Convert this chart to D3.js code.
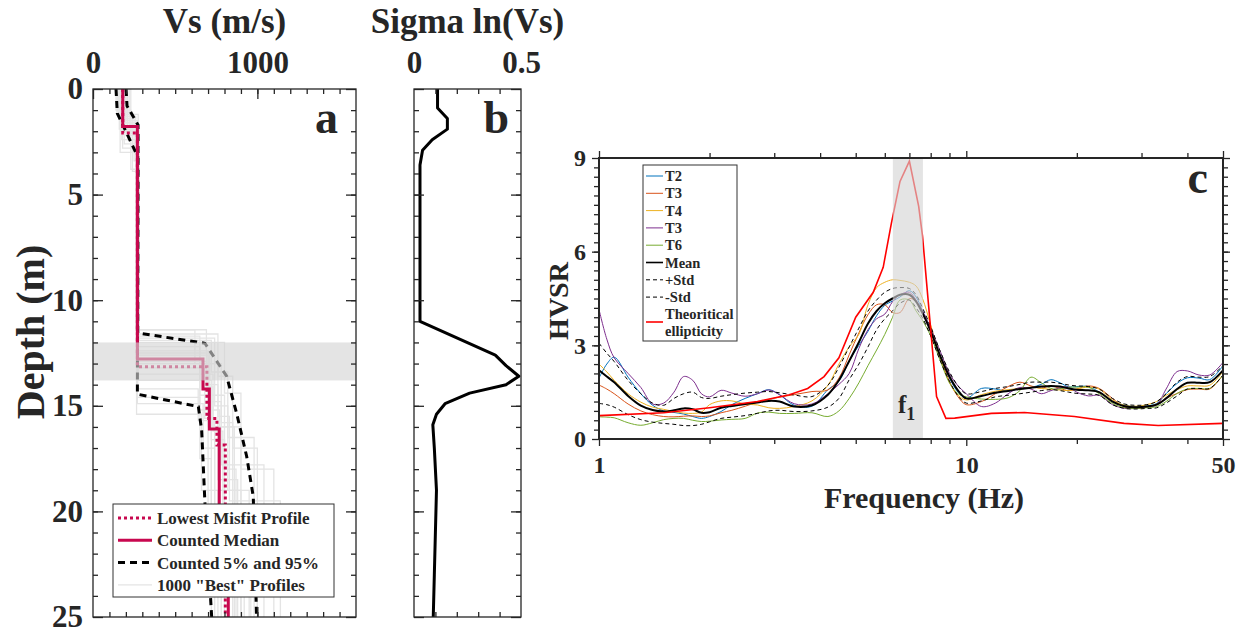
<!DOCTYPE html>
<html>
<head>
<meta charset="utf-8">
<script src="https://cdn.jsdelivr.net/npm/d3@7"></script>
<style>
  body { margin: 0; background: #fff; }
  svg { font-family: "Liberation Serif", "Times New Roman", serif; font-weight: bold; }
  text { fill: #262626; }
</style>
</head>
<body>
<svg id="chart" width="1243" height="632"></svg>
<script>
// ------------------------------------------------------------
// Data
// ------------------------------------------------------------

// Panel a: Vs profiles, each layer is [Vs (m/s), bottom depth (m)]
const medianProfile = [[181, 1.78], [270, 12.78], [669, 14.2], [708, 16.1], [768, 21], [823, 25]];
const lowestMisfit = [[181, 2.08], [270, 13.15], [693, 15.6], [754, 16.86], [805, 25]];
// 5% and 95% curves, points are [Vs, depth]
const pct05 = [[140, 0], [148, 1.15], [272, 3.2], [270, 14.45], [641, 15.04], [661, 16.15], [681, 19.6], [722, 25]];
const pct95 = [[201, 0], [207, 0.8], [274, 1.7], [272, 11.55], [681, 12.04], [813, 13.6], [874, 15.36], [935, 17.4], [975, 19.3], [995, 25]];
// a handful of the "best" profiles (layers [Vs, bottom depth])
const bestProfiles = [
  [[150, 1.2], [275, 11.4], [690, 14.0], [760, 18.5], [880, 25]],
  [[200, 2.2], [265, 11.8], [740, 15.0], [820, 19.0], [950, 25]],
  [[170, 1.6], [270, 12.2], [650, 15.2], [720, 20.0], [800, 25]],
  [[140, 1.0], [230, 3.8], [270, 12.6], [700, 16.0], [900, 25]],
  [[210, 1.9], [280, 11.6], [760, 13.6], [850, 17.0], [1000, 25]],
  [[190, 2.6], [270, 13.2], [680, 15.6], [740, 21], [860, 25]],
  [[160, 1.4], [250, 3.4], [270, 14.6], [650, 17.5], [720, 25]],
  [[180, 2.0], [265, 15.4], [660, 19], [760, 25]],
  [[220, 1.7], [275, 12.0], [800, 14.4], [900, 18], [1100, 25]],
  [[175, 2.4], [270, 13.8], [720, 16.6], [800, 22], [960, 25]],
  [[155, 1.3], [260, 11.4], [620, 13.0], [780, 15.8], [850, 25]],
  [[200, 1.5], [275, 12.4], [700, 14.8], [780, 17.8], [1040, 25]],
  [[165, 3.0], [272, 14.2], [640, 15.7], [700, 20.5], [780, 25]],
  [[185, 1.8], [268, 12.9], [690, 14.1], [730, 16.2], [790, 21], [920, 25]],
  [[230, 2.1], [280, 11.9], [720, 13.4], [820, 16.5], [980, 25]],
  [[145, 1.1], [240, 3.9], [270, 13.0], [760, 15.5], [830, 19.5], [1140, 25]],
  [[170, 2.0], [270, 14.9], [670, 17.0], [740, 25]],
  [[195, 1.6], [265, 11.7], [650, 14.5], [800, 18.0], [870, 25]],
  [[180, 2.8], [270, 12.5], [710, 15.2], [770, 19.0], [900, 25]],
  [[160, 1.9], [276, 13.5], [730, 16.0], [860, 20], [1000, 25]]
];
const bandDepth = [12.0, 13.8];

// Panel b: sigma ln(Vs) against depth
const sigmaDepth = [0, 0.9, 1.4, 1.9, 2.4, 2.9, 3.6, 11.0, 12.6, 13.1, 13.6, 14.0, 14.4, 14.9, 15.4, 15.9, 17, 19, 21, 23, 25];
const sigmaVal = [0.11, 0.11, 0.156, 0.156, 0.085, 0.04, 0.028, 0.028, 0.38, 0.43, 0.49, 0.43, 0.26, 0.145, 0.105, 0.088, 0.095, 0.105, 0.1, 0.095, 0.09];

// Panel c: HVSR curves on a shared frequency grid (Hz)
const freq = [1, 1.05, 1.1, 1.2, 1.3, 1.4, 1.5, 1.6, 1.7, 1.8,
  1.9, 2.0, 2.15, 2.3, 2.5, 2.7, 2.9, 3.1, 3.4, 3.8,
  4.2, 4.5, 4.8, 5.1, 5.4, 5.7, 6.0, 6.3, 6.6, 7.0,
  7.3, 7.6, 8.0, 8.5, 9.0, 9.5, 10, 11, 12, 13,
  14, 15, 16, 17, 18, 19, 20, 21.5, 23, 25,
  27, 29, 31, 33, 35, 37.5, 40, 43, 46, 50];
const hvT2 = [1.95, 2.4, 2.62, 1.98, 1.45, 1.08, 0.9, 0.85, 0.8, 0.72,
  0.66, 0.72, 0.88, 1.1, 1.3, 1.45, 1.58, 1.42, 1.08, 1.05,
  1.58, 1.85, 2.5, 3.0, 3.45, 3.95, 4.28, 4.42, 4.55, 4.75,
  4.55, 4.1, 3.5, 2.65, 1.95, 1.5, 1.3, 1.62, 1.6, 1.53,
  1.62, 1.65, 1.75, 1.9, 1.8, 1.67, 1.68, 1.68, 1.5, 1.22,
  1.08, 1.04, 1.06, 1.14, 1.45, 1.78, 1.96, 1.95, 1.9, 2.35];
const hvT3 = [1.73, 1.6, 1.45, 1.12, 0.9, 0.78, 0.72, 0.71, 0.73, 0.74,
  0.72, 0.74, 0.84, 0.92, 1.05, 1.18, 1.27, 1.34, 1.42, 1.52,
  1.57, 1.95, 2.7, 3.4, 3.98, 4.3, 4.3, 4.05, 4.05, 4.5,
  4.4, 4.05, 3.45, 2.6, 1.85, 1.35, 1.1, 1.2, 1.45, 1.68,
  1.82, 1.7, 1.63, 1.7, 1.62, 1.55, 1.6, 1.7, 1.62, 1.3,
  1.02, 0.98, 1.02, 1.12, 1.3, 1.46, 1.58, 1.6, 1.6, 2.05];
const hvT4 = [2.4, 2.15, 1.88, 1.45, 1.18, 1.02, 0.95, 0.88, 0.83, 0.82,
  0.86, 1.1, 1.22, 1.22, 1.12, 1.09, 1.0, 0.98, 1.04, 1.22,
  1.72, 2.4, 2.95, 3.35, 4.3, 4.85, 5.02, 5.1, 5.08, 5.02,
  4.9, 4.5, 3.65, 2.6, 1.8, 1.4, 1.25, 1.42, 1.53, 1.58,
  1.62, 1.66, 1.62, 1.59, 1.57, 1.55, 1.6, 1.66, 1.6, 1.25,
  1.08, 1.05, 1.1, 1.2, 1.4, 1.58, 1.7, 1.7, 1.72, 2.16];
const hvT3b = [4.15, 3.2, 2.6, 2.1, 1.65, 1.12, 1.15, 1.5, 2.0, 1.88,
  1.45, 1.35, 1.56, 1.47, 1.37, 1.45, 1.57, 1.42, 1.13, 1.12,
  1.45, 1.75, 2.1, 2.9, 3.5, 3.85, 4.0, 4.4, 4.62, 4.7,
  4.45, 4.1, 3.55, 2.8, 2.1, 1.7, 1.45, 1.04, 1.15, 1.45,
  1.65, 1.6, 1.45, 1.55, 1.64, 1.66, 1.5, 1.38, 1.4, 1.1,
  0.98, 0.98, 1.02, 1.1, 1.6, 2.16, 2.18, 2.05, 2.05, 2.45];
const hvT6 = [0.71, 0.7, 0.68, 0.52, 0.44, 0.52, 0.62, 0.66, 0.66, 0.6,
  0.56, 0.57, 0.61, 0.63, 0.66, 0.83, 0.86, 0.82, 0.82, 0.84,
  0.72, 0.9, 1.3, 1.8, 2.35, 2.85, 3.35, 3.9, 4.45, 4.45,
  4.1, 3.8, 3.3, 2.5, 1.8, 1.45, 1.35, 1.28, 1.27, 1.32,
  1.55, 1.98, 1.8, 1.62, 1.6, 1.66, 1.66, 1.66, 1.45, 1.14,
  1.0, 0.98, 1.0, 1.04, 1.2, 1.46, 1.6, 1.62, 1.62, 2.05];
const hvMean = [2.2, 2.0, 1.82, 1.38, 1.07, 0.93, 0.88, 0.92, 0.98, 0.95,
  0.84, 0.86, 1.0, 1.06, 1.12, 1.17, 1.22, 1.2, 1.04, 1.08,
  1.42, 1.88, 2.5, 3.1, 3.7, 4.1, 4.35, 4.5, 4.62, 4.62,
  4.4, 4.03, 3.45, 2.65, 2.0, 1.55, 1.3, 1.38, 1.48, 1.54,
  1.6, 1.64, 1.68, 1.7, 1.68, 1.62, 1.58, 1.56, 1.5, 1.2,
  1.05, 1.02, 1.04, 1.1, 1.3, 1.6, 1.8, 1.8, 1.82, 2.2];
const hvPlusStd = [3.07, 2.75, 2.48, 1.88, 1.45, 1.15, 1.08, 1.3, 1.45, 1.5,
  1.33, 1.3, 1.37, 1.42, 1.47, 1.5, 1.52, 1.48, 1.41, 1.36,
  1.72, 2.3, 2.95, 3.55, 4.1, 4.45, 4.7, 4.82, 4.85, 4.82,
  4.62, 4.2, 3.6, 2.8, 2.15, 1.7, 1.45, 1.52, 1.62, 1.68,
  1.75, 1.82, 1.82, 1.82, 1.78, 1.73, 1.7, 1.68, 1.6, 1.3,
  1.12, 1.08, 1.1, 1.2, 1.45, 1.82, 2.0, 1.98, 2.0, 2.35];
const hvMinusStd = [1.14, 1.1, 1.02, 0.78, 0.62, 0.54, 0.5, 0.47, 0.43, 0.43,
  0.47, 0.55, 0.66, 0.7, 0.75, 0.82, 0.9, 0.92, 0.88, 0.9,
  1.02, 1.3, 1.9, 2.4, 2.95, 3.5, 3.85, 4.1, 4.35, 4.45,
  4.2, 3.88, 3.3, 2.5, 1.85, 1.38, 1.15, 1.22, 1.35, 1.4,
  1.45, 1.5, 1.55, 1.58, 1.55, 1.5, 1.46, 1.44, 1.4, 1.1,
  0.98, 0.96, 0.98, 1.0, 1.15, 1.38, 1.6, 1.62, 1.62, 2.05];
// theoretical ellipticity, own (coarser) frequency sampling
const ellF = [1, 1.5, 2, 2.7, 3.3, 3.7, 4.1, 4.5, 5.0, 5.58, 5.94, 6.25, 6.6, 7.0, 7.42, 7.6, 8.3, 8.8, 9.3, 11.7, 14.4, 19.7, 26.9, 33.3, 50];
const ellV = [0.75, 0.84, 1.0, 1.2, 1.42, 1.62, 2.0, 2.6, 3.9, 4.7, 5.5, 6.9, 8.25, 8.9, 7.45, 6.5, 1.36, 0.66, 0.67, 0.82, 0.85, 0.72, 0.5, 0.43, 0.5];
const f1Band = [6.31, 7.62];

const hvsrLabels = ["T2", "T3", "T4", "T3", "T6", "Mean", "+Std", "-Std"];

// ------------------------------------------------------------
// Setup
// ------------------------------------------------------------
const svg = d3.select("#chart");
const ink = "#262626";

function styleAxis(g, fontSize) {
  g.select(".domain").remove();
  g.selectAll(".tick line").attr("stroke", ink).attr("stroke-width", 1.3);
  g.selectAll(".tick text")
    .attr("fill", ink)
    .style("font-size", fontSize + "px")
    .style("font-family", "'Liberation Serif', 'Times New Roman', serif")
    .style("font-weight", "bold");
}

// turn layered profile into a step line
function stepPoints(layers) {
  const pts = [];
  let top = 0;
  layers.forEach(([vs, bot]) => {
    pts.push([vs, top], [vs, bot]);
    top = bot;
  });
  return pts;
}

// ------------------------------------------------------------
// Panel a
// ------------------------------------------------------------
const xVs = d3.scaleLinear().domain([0, 1600]).range([93, 356]);
const yDep = d3.scaleLinear().domain([0, 25]).range([89, 617]);

svg.append("clipPath").attr("id", "clipA")
  .append("rect").attr("x", 93).attr("y", 89).attr("width", 263).attr("height", 528);

const gA = svg.append("g").attr("clip-path", "url(#clipA)");
const vsLine = d3.line().x(d => xVs(d[0])).y(d => yDep(d[1]));

gA.selectAll(".best")
  .data(bestProfiles)
  .enter()
  .append("path")
  .attr("d", d => vsLine(stepPoints(d)))
  .attr("fill", "none")
  .attr("stroke", "#e4e4e4")
  .attr("stroke-width", 1.3);

[pct05, pct95].forEach(p => {
  gA.append("path")
    .attr("d", vsLine(p))
    .attr("fill", "none")
    .attr("stroke", "#000")
    .attr("stroke-width", 3)
    .attr("stroke-dasharray", "7,5");
});

gA.append("path")
  .attr("d", vsLine(stepPoints(medianProfile)))
  .attr("fill", "none")
  .attr("stroke", "#c8084f")
  .attr("stroke-width", 3);

gA.append("path")
  .attr("d", vsLine(stepPoints(lowestMisfit)))
  .attr("fill", "none")
  .attr("stroke", "#c8084f")
  .attr("stroke-width", 3)
  .attr("stroke-dasharray", "3,3");

// shaded depth band drawn over the lines
gA.append("rect")
  .attr("x", 93)
  .attr("y", yDep(bandDepth[0]))
  .attr("width", 263)
  .attr("height", yDep(bandDepth[1]) - yDep(bandDepth[0]))
  .attr("fill", "#d4d4d4")
  .attr("opacity", 0.62);

// axes for panel a
const minorVs = d3.range(100, 1600, 100);
svg.append("g").attr("transform", "translate(0,89)")
  .call(d3.axisTop(xVs).tickValues(minorVs).tickSize(-5).tickFormat(""))
  .call(g => styleAxis(g, 30));
svg.append("g").attr("transform", "translate(0,89)")
  .call(d3.axisTop(xVs).tickValues([0, 1000]).tickSize(-10).tickPadding(16).tickFormat(d3.format("d")))
  .call(g => styleAxis(g, 31));
svg.append("g").attr("transform", "translate(0,617)")
  .call(d3.axisBottom(xVs).tickValues(minorVs).tickSize(-5).tickFormat(""))
  .call(g => styleAxis(g, 30));
svg.append("g").attr("transform", "translate(0,617)")
  .call(d3.axisBottom(xVs).tickValues([1000]).tickSize(-10).tickFormat(""))
  .call(g => styleAxis(g, 30));

function depthAxes(xLeft, xRight, labels) {
  const minorD = d3.range(1, 25);
  const majorD = d3.range(0, 26, 5);
  svg.append("g").attr("transform", `translate(${xLeft},0)`)
    .call(d3.axisLeft(yDep).tickValues(minorD).tickSize(-5).tickFormat(""))
    .call(g => styleAxis(g, 30));
  svg.append("g").attr("transform", `translate(${xLeft},0)`)
    .call(d3.axisLeft(yDep).tickValues(majorD).tickSize(-10).tickPadding(10)
      .tickFormat(labels ? d3.format("d") : ""))
    .call(g => styleAxis(g, 31));
  svg.append("g").attr("transform", `translate(${xRight},0)`)
    .call(d3.axisRight(yDep).tickValues(minorD).tickSize(-5).tickFormat(""))
    .call(g => styleAxis(g, 30));
  svg.append("g").attr("transform", `translate(${xRight},0)`)
    .call(d3.axisRight(yDep).tickValues(majorD).tickSize(-10).tickFormat(""))
    .call(g => styleAxis(g, 30));
}
depthAxes(93, 356, true);

svg.append("rect")
  .attr("x", 93).attr("y", 89).attr("width", 263).attr("height", 528)
  .attr("fill", "none").attr("stroke", ink).attr("stroke-width", 1.3);

svg.append("text").attr("x", 224.5).attr("y", 33).attr("text-anchor", "middle")
  .style("font-size", "35px").text("Vs (m/s)");
svg.append("text")
  .attr("transform", "translate(44,332) rotate(-90)")
  .attr("text-anchor", "middle")
  .style("font-size", "40px")
  .text("Depth (m)");
svg.append("text").attr("x", 338).attr("y", 133).attr("text-anchor", "end")
  .style("font-size", "46px").text("a");

// legend for panel a
const legA = svg.append("g");
legA.append("rect").attr("x", 113).attr("y", 504).attr("width", 221).attr("height", 93)
  .attr("fill", "#fff").attr("stroke", "#333").attr("stroke-width", 1);
const legAItems = [
  { label: "Lowest Misfit Profile", color: "#c8084f", width: 3, dash: "3,3" },
  { label: "Counted Median", color: "#c8084f", width: 3, dash: null },
  { label: "Counted 5% and 95%", color: "#000", width: 3, dash: "7,5" },
  { label: "1000 \"Best\" Profiles", color: "#e4e4e4", width: 1.3, dash: null }
];
legAItems.forEach((d, i) => {
  const yy = 518 + i * 22.3;
  legA.append("line").attr("x1", 118).attr("x2", 152).attr("y1", yy).attr("y2", yy)
    .attr("stroke", d.color).attr("stroke-width", d.width)
    .attr("stroke-dasharray", d.dash);
  legA.append("text").attr("x", 157).attr("y", yy + 6)
    .style("font-size", "17px").text(d.label);
});

// ------------------------------------------------------------
// Panel b
// ------------------------------------------------------------
const xSig = d3.scaleLinear().domain([0, 0.5]).range([414, 521]);
const sigmaLine = d3.line().x(d => xSig(d[1])).y(d => yDep(d[0]));
svg.append("path")
  .attr("d", sigmaLine(d3.zip(sigmaDepth, sigmaVal)))
  .attr("fill", "none")
  .attr("stroke", "#000")
  .attr("stroke-width", 3)
  .attr("stroke-linejoin", "round");

const minorSig = [0.1, 0.2, 0.3, 0.4];
svg.append("g").attr("transform", "translate(0,89)")
  .call(d3.axisTop(xSig).tickValues(minorSig).tickSize(-5).tickFormat(""))
  .call(g => styleAxis(g, 30));
svg.append("g").attr("transform", "translate(0,89)")
  .call(d3.axisTop(xSig).tickValues([0, 0.5]).tickSize(0).tickPadding(16).tickFormat(d3.format("~g")))
  .call(g => styleAxis(g, 31));
svg.append("g").attr("transform", "translate(0,617)")
  .call(d3.axisBottom(xSig).tickValues(minorSig).tickSize(-5).tickFormat(""))
  .call(g => styleAxis(g, 30));
depthAxes(414, 521, false);
svg.append("rect")
  .attr("x", 414).attr("y", 89).attr("width", 107).attr("height", 528)
  .attr("fill", "none").attr("stroke", ink).attr("stroke-width", 1.3);

svg.append("text").attr("x", 467.5).attr("y", 33).attr("text-anchor", "middle")
  .style("font-size", "35px").text("Sigma ln(Vs)");
svg.append("text").attr("x", 509).attr("y", 133).attr("text-anchor", "end")
  .style("font-size", "46px").text("b");

// ------------------------------------------------------------
// Panel c
// ------------------------------------------------------------
const xF = d3.scaleLog().domain([1, 50]).range([599, 1223]);
const yH = d3.scaleLinear().domain([0, 9]).range([439, 158]);

svg.append("clipPath").attr("id", "clipC")
  .append("rect").attr("x", 599).attr("y", 158).attr("width", 624).attr("height", 281);
const gC = svg.append("g").attr("clip-path", "url(#clipC)");

const smooth = d3.line().x(d => xF(d[0])).y(d => yH(d[1])).curve(d3.curveCatmullRom.alpha(0.5));
const straight = d3.line().x(d => xF(d[0])).y(d => yH(d[1]));

const hvSeries = [
  { values: hvT2, color: "#0072BD", width: 1, dash: null },
  { values: hvT3, color: "#D95319", width: 1, dash: null },
  { values: hvT4, color: "#EDB120", width: 1, dash: null },
  { values: hvT3b, color: "#7E2F8E", width: 1, dash: null },
  { values: hvT6, color: "#77AC30", width: 1, dash: null },
  { values: hvMean, color: "#000", width: 2, dash: null },
  { values: hvPlusStd, color: "#000", width: 1, dash: "4,3" },
  { values: hvMinusStd, color: "#000", width: 1, dash: "4,3" }
];
hvSeries.forEach(s => {
  gC.append("path")
    .attr("d", smooth(d3.zip(freq, s.values)))
    .attr("fill", "none")
    .attr("stroke", s.color)
    .attr("stroke-width", s.width)
    .attr("stroke-dasharray", s.dash);
});
gC.append("path")
  .attr("d", straight(d3.zip(ellF, ellV)))
  .attr("fill", "none")
  .attr("stroke", "#ff0000")
  .attr("stroke-width", 1.6);

gC.append("rect")
  .attr("x", xF(f1Band[0])).attr("y", 158)
  .attr("width", xF(f1Band[1]) - xF(f1Band[0])).attr("height", 281)
  .attr("fill", "#d4d4d4").attr("opacity", 0.62);

const f1 = svg.append("text").attr("x", 898).attr("y", 413).style("font-size", "25px");
f1.append("tspan").text("f");
f1.append("tspan").attr("dy", 7).style("font-size", "18px").text("1");

// axes for panel c (ticks point outward)
const minorF = [2, 3, 4, 5, 6, 7, 8, 9, 20, 30, 40];
const majorF = [1, 10, 50];
svg.append("g").attr("transform", "translate(0,439)")
  .call(d3.axisBottom(xF).tickValues(minorF).tickSize(5).tickFormat(""))
  .call(g => styleAxis(g, 24));
svg.append("g").attr("transform", "translate(0,439)")
  .call(d3.axisBottom(xF).tickValues(majorF).tickSize(7).tickPadding(10).tickFormat(d3.format("d")))
  .call(g => styleAxis(g, 24));
svg.append("g").attr("transform", "translate(0,158)")
  .call(d3.axisTop(xF).tickValues(minorF).tickSize(5).tickFormat(""))
  .call(g => styleAxis(g, 24));
svg.append("g").attr("transform", "translate(0,158)")
  .call(d3.axisTop(xF).tickValues(majorF).tickSize(7).tickFormat(""))
  .call(g => styleAxis(g, 24));

const minorH = d3.range(1, 30).map(i => i * 0.3);
const majorH = [0, 3, 6, 9];
svg.append("g").attr("transform", "translate(599,0)")
  .call(d3.axisLeft(yH).tickValues(minorH).tickSize(5).tickFormat(""))
  .call(g => styleAxis(g, 24));
svg.append("g").attr("transform", "translate(599,0)")
  .call(d3.axisLeft(yH).tickValues(majorH).tickSize(7).tickPadding(6).tickFormat(d3.format("d")))
  .call(g => styleAxis(g, 24));
svg.append("g").attr("transform", "translate(1223,0)")
  .call(d3.axisRight(yH).tickValues(minorH).tickSize(5).tickFormat(""))
  .call(g => styleAxis(g, 24));
svg.append("g").attr("transform", "translate(1223,0)")
  .call(d3.axisRight(yH).tickValues(majorH).tickSize(7).tickFormat(""))
  .call(g => styleAxis(g, 24));

svg.append("rect")
  .attr("x", 599).attr("y", 158).attr("width", 624).attr("height", 281)
  .attr("fill", "none").attr("stroke", ink).attr("stroke-width", 2);

svg.append("text").attr("x", 924).attr("y", 508).attr("text-anchor", "middle")
  .style("font-size", "30px").text("Frequency (Hz)");
svg.append("text")
  .attr("transform", "translate(568,301) rotate(-90)")
  .attr("text-anchor", "middle")
  .style("font-size", "28px")
  .text("HVSR");
svg.append("text").attr("x", 1208).attr("y", 193).attr("text-anchor", "end")
  .style("font-size", "46px").text("c");

// legend for panel c
const legC = svg.append("g");
legC.append("rect").attr("x", 643).attr("y", 165).attr("width", 94).attr("height", 176)
  .attr("fill", "#fff").attr("stroke", "#333").attr("stroke-width", 1);
hvSeries.forEach((s, i) => {
  const yy = 176 + i * 17.3;
  legC.append("line").attr("x1", 646).attr("x2", 663).attr("y1", yy).attr("y2", yy)
    .attr("stroke", s.color).attr("stroke-width", s.width === 2 ? 1.6 : 1)
    .attr("stroke-dasharray", s.dash);
  legC.append("text").attr("x", 665).attr("y", yy + 5)
    .style("font-size", "14.5px").text(hvsrLabels[i]);
});
legC.append("line").attr("x1", 646).attr("x2", 663).attr("y1", 322).attr("y2", 322)
  .attr("stroke", "#ff0000").attr("stroke-width", 1.6);
legC.append("text").attr("x", 665).attr("y", 319).style("font-size", "14.5px").text("Theoritical");
legC.append("text").attr("x", 665).attr("y", 336).style("font-size", "14.5px").text("ellipticity");
</script>
</body>
</html>
